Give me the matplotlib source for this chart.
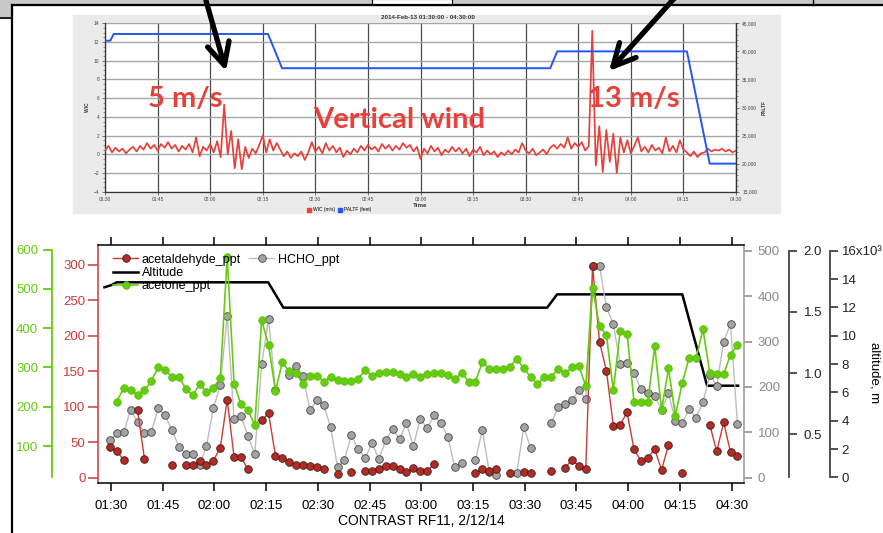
import numpy as np
import matplotlib
matplotlib.use("Agg")
from matplotlib import pyplot as plt
from matplotlib.patches import Rectangle, Patch
from matplotlib.ticker import MultipleLocator

plt.rcParams['font.family'] = ['Liberation Sans', 'DejaVu Sans']

W, H = 883, 533
nan = np.nan

# vertical wind WIC (m/s), one value per minute, 01:30 .. 04:30
wic = [0.4, 0.9, 0.2, 0.7, 0.3, 0.6, 0.1, 0.5, 0.8, 0.3,
       0.9, 0.5, 1.2, 0.6, 1.0, 0.4, 1.1, 0.7, 1.3, 0.6,
       1.0, 0.3, 0.9, 0.5, 1.1, 0.2, 1.8, -0.2, 0.8, 0.4,
       1.1, 0.2, 1.4, -0.3, 5.3, 0.0, 2.5, -1.5, 1.6, -1.6,
       0.8, -0.4, 0.6, 0.1, 1.0, 2.0, 0.2, 1.6, 0.4, 1.2,
       0.5, -0.2, 0.3, -0.4, 0.1, -0.2, 0.3, -0.6, 0.2, 1.3,
       0.3, 0.8, 0.1, 1.2, 0.4, 0.9, 0.2, 0.7, -0.3, 0.4,
       0.0, 0.6, 0.2, 0.9, 0.4, 1.0, 0.5, 0.8, 0.3, 1.1,
       0.6, 1.0, 0.4, 0.9, 0.5, 1.2, 0.7, 1.0, 0.3, 0.8,
       -0.5, 0.6, 0.1, 0.9, 0.3, 0.7, -0.1, 0.5, 0.2, 0.8,
       0.3, 0.7, 0.1, 0.6, -0.2, 0.5, 0.2, 0.8, -0.1, 0.4,
       0.0, 0.3, -0.3, 0.2, -0.1, 0.4, 0.0, 0.5, 0.2, 1.2,
       0.4, 0.1, 0.6, -0.1, 0.2, 0.5, 0.0, 0.7, 1.0, 0.6,
       1.1, 0.7, 1.8, 0.6, 1.2, 0.8, 1.3, 0.4, 0.9, 13.2,
       -1.2, 3.0, -1.9, 2.6, -0.8, 2.2, -2.0, 1.8, 0.2, 1.5,
       0.1, 0.9, 1.8, 0.3, 0.8, 0.2, 1.0, 0.4, 0.7, 0.1,
       1.8, 0.3, 0.9, 0.2, 1.5, 0.5, 0.2, -0.2, 0.3, -0.3,
       0.1, 0.2, 0.6, 0.3, 0.5, 0.4, 0.6, 0.3, 0.5, 0.2, 0.4]

# pressure altitude PALTF (feet), break points in minutes after 01:30
paltf_min = [0, 1.5, 2.5, 46.5, 50.5, 127, 129, 166, 172.5, 180]
paltf_ft = [41900, 41900, 43100, 43100, 37000, 37000, 40000, 40000, 20000, 20000]

hour_ticks = [0, 15, 30, 45, 60, 75, 90, 105, 120, 135, 150, 165, 180]
hour_labels = ['01:30', '01:45', '02:00', '02:15', '02:30', '02:45', '03:00',
               '03:15', '03:30', '03:45', '04:00', '04:15', '04:30']

# trace gas samples every 2 min, first one at 01:29:42
sample_min = -0.3 + 2.0 * np.arange(92)

acetaldehyde_ppt = [43, 37, 25, nan, 95, 27, nan, nan, nan, 18,
                    nan, 18, 18, 23, 18, 24, 42, 110, 29, 29,
                    12, nan, 81, 91, 31, 28, 22, 18, 18, 17,
                    15, 12, nan, 5, nan, 8, nan, 10, 10, 12,
                    16, 16, 12, 8, 13, 10, 10, 19, nan, nan,
                    nan, nan, nan, 6, 12, 10, 12, nan, 7, nan,
                    8, 7, nan, nan, 10, nan, 14, 25, 17, 12,
                    298, 191, 151, 73, 75, 92, 40, 24, 28, 40,
                    11, 46, nan, 6, nan, nan, nan, 74, 37, 78,
                    36, 31]

hcho_ppt = [83, 98, 101, 149, 123, 98, 100, 153, 137, 105,
            68, 52, 52, 27, 70, 153, 204, 356, 129, 136,
            92, 52, 250, 349, 193, nan, 226, 246, 223, 149,
            171, 160, 111, 24, 39, 93, 63, 43, 76, 41,
            83, 107, 85, 120, 70, 129, 109, 137, 120, 90,
            23, 33, nan, 39, 105, 13, 7, nan, nan, 11,
            111, 66, nan, nan, 120, 156, 162, 171, 193, 173,
            466, 466, 375, 338, 250, 253, 230, 195, 187, 180,
            149, 186, 125, 120, 151, 132, 166, 226, 203, 300,
            338, 118]

acetone_ppt = [nan, 213, 248, 242, 230, 242, 266, 300, 293, 276,
               276, 246, 229, 257, 237, 248, 273, 580, 259, 206,
               192, 153, 420, 357, 240, 313, 290, 285, 258, 279,
               279, 264, 276, 268, 266, 266, 271, 293, 279, 286,
               289, 289, 283, 276, 283, 276, 283, 286, 286, 281,
               270, 286, 264, 264, 313, 297, 295, 297, 302, 322,
               298, 276, 258, 275, 276, 297, 285, 300, 303, 253,
               501, 405, 382, 242, 393, 385, 213, 213, 213, 354,
               192, 298, 177, 261, 325, 323, 397, 286, 283, 283,
               332, 357]

# aircraft altitude (m), break points in minutes after 01:30
alt_min = [-1.9, 0.2, 1.65, 45.6, 50.0, 126.5, 129.4, 165.7, 172.9, 181.9]
alt_m = [13420, 13580, 13770, 13770, 11980, 11980, 12920, 12920, 6470, 6470]


def px_rect(x0, y0, x1, y1):
    # pixel box (top-left origin) -> figure fraction rect
    return [x0 / W, 1 - y1 / H, (x1 - x0) / W, (y1 - y0) / H]


fig = plt.figure(figsize=(W / 100, H / 100), dpi=100)

# slide furniture
bg = fig.add_axes([0, 0, 1, 1], zorder=0)
bg.set_xlim(0, W)
bg.set_ylim(H, 0)
bg.axis('off')
bg.add_patch(Rectangle((0, 0), W, 4.5, color='#c8c8c8'))
bg.add_patch(Rectangle((0, 0), 11.5, 18, color='#c8c8c8'))
bg.add_patch(Rectangle((372, -1), 80, 5.5, fc='white', ec='black', lw=0.8))
bg.plot([11.5, W], [4.5, 4.5], color='black', lw=1.6)
bg.plot([0, 11.5], [18, 18], color='black', lw=1.2)
bg.plot([11.5, 11.5], [4.5, H], color='black', lw=1.6)
bg.plot([813, 813], [0, 4.5], color='black', lw=1.0)
bg.add_patch(Rectangle((73, 15), 707, 198, color='#ebebeb'))

# ---- upper panel: WIC and PALTF ----
tiny = 3.5
ax_w = fig.add_axes(px_rect(105, 23.3, 736, 191.7), zorder=1)
ax_w.set_facecolor('white')
ax_w.plot(np.arange(len(wic)), wic, color='#e8403a', lw=1.25, zorder=3)
ax_w.set_xlim(0, 180)
ax_w.set_ylim(-4, 14)
ax_w.set_yticks(np.arange(-4, 15, 2))
ax_w.yaxis.set_minor_locator(MultipleLocator(0.5))
ax_w.set_xticks(hour_ticks)
ax_w.set_xticklabels(hour_labels)
ax_w.grid(axis='y', color='#a6a6a6', lw=1.0)
ax_w.grid(axis='x', color='#4a4a4a', lw=0.9)
ax_w.set_axisbelow(True)
ax_w.tick_params(labelsize=tiny, length=2.5, width=0.5, pad=1.5, colors='#444444')
ax_w.tick_params(which='minor', length=1.5, width=0.4, colors='#444444')
ax_w.spines['top'].set_visible(False)
for s in ['left', 'right', 'bottom']:
    ax_w.spines[s].set_color('#333333')
    ax_w.spines[s].set_linewidth(0.9)
ax_w.set_xlabel('Time', fontsize=4.5, fontweight='bold', labelpad=0.5, color='#333333')
ax_w.set_ylabel('WIC', fontsize=tiny, fontweight='bold', labelpad=3, color='#333333')

ax_p = ax_w.twinx()
ax_p.plot(paltf_min, paltf_ft, color='#2456f5', lw=1.4)
ax_p.set_ylim(15000, 45000)
ax_p.set_yticks(np.arange(15000, 45001, 5000))
ax_p.set_yticklabels(['{:,}'.format(v) for v in range(15000, 45001, 5000)])
ax_p.yaxis.set_minor_locator(MultipleLocator(1000))
ax_p.tick_params(labelsize=tiny, length=2.5, width=0.5, pad=2, colors='#444444')
ax_p.tick_params(which='minor', length=1.5, width=0.4, colors='#444444')
for s in ['top', 'left', 'bottom']:
    ax_p.spines[s].set_visible(False)
ax_p.spines['right'].set_color('#333333')
ax_p.set_ylabel('PALTF', fontsize=tiny, fontweight='bold', labelpad=3, color='#333333')

fig.text(428 / W, 1 - 17.5 / H, '2014-Feb-13 01:30:00 - 04:30:00', fontsize=4.5,
         fontweight='bold', ha='center', va='center', color='#333333')
ax_w.legend(handles=[Patch(color='#e8403a', label='WIC (m/s)'),
                     Patch(color='#2456f5', label='PALTF (feet)')],
            loc='center', bbox_to_anchor=(339 / W, 1 - 210 / H),
            bbox_transform=fig.transFigure, ncol=2, fontsize=tiny, frameon=False,
            handlelength=0.9, handleheight=0.9, columnspacing=0.6,
            handletextpad=0.4, borderpad=0)

# ---- lower panel: trace gases ----
red = '#d03a3a'
green = '#66cc11'
grey = '#8a8a8a'
dark = '#444444'

ax = fig.add_axes(px_rect(98, 245, 744, 483))
ax_alt = ax.twinx()
ax_b = ax.twinx()
ax_h = ax.twinx()
ax_g = ax.twinx()
ax.patch.set_visible(False)
for z, a in enumerate([ax_alt, ax_b, ax_h, ax, ax_g]):
    a.set_zorder(2 + z)
for a in [ax_alt, ax_b, ax_h, ax_g]:
    for s in a.spines.values():
        s.set_visible(False)

ax.set_xlim(-3.77, 183.6)
ax.set_xticks(hour_ticks)
ax.set_xticklabels(hour_labels)
ax.tick_params(axis='x', top=True, labeltop=False, length=6, width=1.1,
               labelsize=9.5, pad=6, color='black')
ax.set_xlabel('CONTRAST RF11, 2/12/14', fontsize=10, labelpad=2)
ax.spines['right'].set_visible(False)
for s in ['top', 'bottom']:
    ax.spines[s].set_linewidth(1.1)
ax.spines['left'].set_color(red)
ax.spines['left'].set_linewidth(1.1)

# acetaldehyde on the inner left axis
ax.set_ylim(-7.5, 328.2)
ax.set_yticks(range(0, 301, 50))
ax.tick_params(axis='y', colors=red, labelsize=9.5, length=7, width=1.1, pad=2)
l_ald, = ax.plot(sample_min, acetaldehyde_ppt, '-o', color='#cc3b33', lw=1.0,
                 ms=5.5, mfc='#b52a22', mec='#3a2020', mew=0.6)

# acetone on the outer left axis
ax_g.set_ylim(5.9, 611.5)
ax_g.yaxis.tick_left()
ax_g.spines['left'].set_visible(True)
ax_g.spines['left'].set_position(('axes', -46 / 646))
ax_g.spines['left'].set_color(green)
ax_g.spines['left'].set_linewidth(1.3)
ax_g.spines['left'].set_bounds(21, 600)
ax_g.set_yticks(range(100, 601, 100))
ax_g.tick_params(axis='y', colors=green, labelsize=9.5, length=6.5, width=1.3, pad=3.5)
l_act, = ax_g.plot(sample_min, acetone_ppt, '-o', color=green, lw=1.2,
                   ms=5.5, mfc=green, mec='#5bbf08', mew=0.5)

# HCHO on the inner right axis
ax_h.set_ylim(-11.7, 512.6)
ax_h.spines['right'].set_visible(True)
ax_h.spines['right'].set_color('#999999')
ax_h.spines['right'].set_linewidth(1.1)
ax_h.set_yticks(range(0, 501, 100))
ax_h.tick_params(axis='y', colors=grey, labelsize=9.5, length=6, width=1.1, pad=4)
l_hcho, = ax_h.plot(sample_min, hcho_ppt, '-o', color='#bdbdbd', lw=1.0,
                    ms=5.5, mfc='#a3a3a3', mec='#444444', mew=0.6)

# unlabelled 0.5-2.0 axis
ax_b.set_ylim(0.102, 2.047)
ax_b.spines['right'].set_visible(True)
ax_b.spines['right'].set_position(('axes', (789 - 98) / 646))
ax_b.spines['right'].set_color(dark)
ax_b.spines['right'].set_linewidth(1.3)
ax_b.spines['right'].set_bounds(0.15, 2.0)
ax_b.set_yticks([0.5, 1.0, 1.5, 2.0])
ax_b.set_yticklabels(['0.5', '1.0', '1.5', '2.0'])
ax_b.tick_params(axis='y', colors=dark, labelcolor='#222222', labelsize=9.5,
                 length=6, width=1.3, pad=4.5)

# altitude axis
ax_alt.set_ylim(-400, 16405)
ax_alt.spines['right'].set_visible(True)
ax_alt.spines['right'].set_position(('axes', (830 - 98) / 646))
ax_alt.spines['right'].set_color(dark)
ax_alt.spines['right'].set_linewidth(1.3)
ax_alt.spines['right'].set_bounds(0, 16000)
ax_alt.set_yticks(range(0, 16001, 2000))
ax_alt.set_yticklabels([str(v) for v in range(0, 15, 2)] + ['16x10\u00b3'])
ax_alt.tick_params(axis='y', colors=dark, labelcolor='#222222', labelsize=9.5,
                   length=6, width=1.3, pad=2.5)
l_alt, = ax_alt.plot(alt_min, alt_m, color='black', lw=1.8)
fig.text(875 / W, 1 - 373 / H, 'altitude, m', rotation=270, ha='center',
         va='center', fontsize=9.5)

leg_kw = dict(loc='upper left', bbox_transform=fig.transFigure, frameon=False,
              fontsize=9, handlelength=2.0, handletextpad=0.3, labelspacing=0.12,
              borderpad=0, borderaxespad=0)
leg1 = ax_g.legend([l_ald, l_alt, l_act], ['acetaldehyde_ppt', 'Altitude', 'acetone_ppt'],
                   bbox_to_anchor=(113 / W, 1 - 253.5 / H), **leg_kw)
ax_g.add_artist(leg1)
ax_g.legend([l_hcho], ['HCHO_ppt'], bbox_to_anchor=(249 / W, 1 - 253.5 / H), **leg_kw)

# ---- call-outs over the upper panel ----
ov = fig.add_axes([0, 0, 1, 1], zorder=20)
ov.set_xlim(0, W)
ov.set_ylim(H, 0)
ov.axis('off')
arrow = dict(arrowstyle='->,head_length=1.6,head_width=0.8', lw=3.8, color='black',
             shrinkA=0, shrinkB=0)
ov.annotate('', xy=(226, 71), xytext=(203, -10), arrowprops=arrow)
ov.annotate('', xy=(609, 71), xytext=(680, -8), arrowprops=arrow)

callout = dict(fontsize=21, fontweight='bold', color='#e8403a', family=['Lato', 'DejaVu Sans'],
               ha='left', va='baseline')
ov.text(148, 107, '5 m/s', **callout)
ov.text(313, 128, 'Vertical wind', **callout)
ov.text(588, 107, '13 m/s', **callout)

fig.savefig('out.png', dpi=100)
